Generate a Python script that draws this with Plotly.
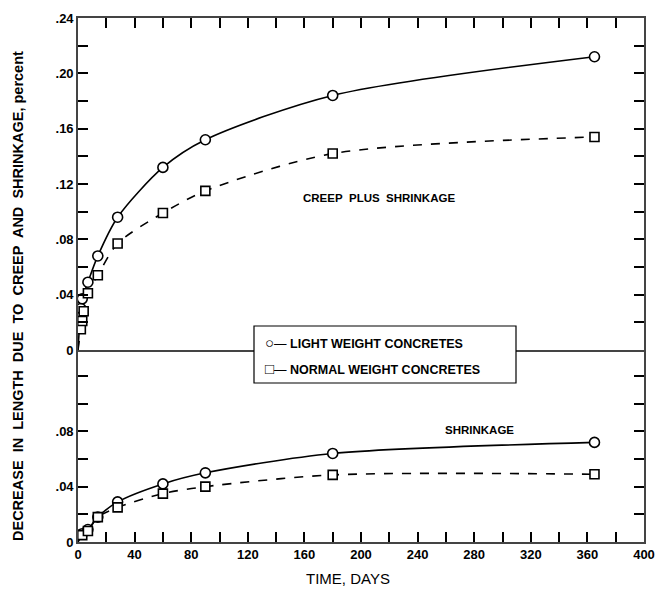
import plotly.graph_objects as go

# Ages at test (days); 0 is the start of loading
days_light_cs = [0, 2, 3, 7, 14, 28, 60, 90, 180, 365]
light_cs = [0.0, 0.030, 0.037, 0.049, 0.068, 0.096, 0.132, 0.152, 0.184, 0.212]

days_normal_cs = [0, 2, 3, 4, 7, 14, 28, 60, 90, 180, 365]
normal_cs = [0.0, 0.015, 0.021, 0.028, 0.041, 0.054, 0.077, 0.099, 0.115, 0.142, 0.154]

days_light_sh = [0, 3, 7, 14, 28, 60, 90, 180, 365]
light_sh = [0.0, 0.006, 0.009, 0.018, 0.029, 0.042, 0.050, 0.064, 0.072]

days_normal_sh = [0, 3, 7, 14, 28, 60, 90, 180, 365]
normal_sh = [0.0, 0.005, 0.008, 0.018, 0.025, 0.035, 0.040, 0.0485, 0.049]

x_tickvals = list(range(0, 401, 20))
x_ticktext = [str(v) if v % 40 == 0 else "" for v in x_tickvals]

upper_tickvals = [i * 0.02 for i in range(13)]
upper_ticktext = ["0", "", ".04", "", ".08", "", ".12", "", ".16", "", ".20", "", ".24"]
lower_tickvals = [i * 0.02 for i in range(7)]
lower_ticktext = ["0", "", ".04", "", ".08", "", ""]

legend_labels = ["LIGHT WEIGHT CONCRETES", "NORMAL WEIGHT CONCRETES"]
legend_glyphs = ["○", "□"]

FONT = "Liberation Sans"
BLACK = "black"

fig = go.Figure()


def add_series(days, vals, symbol, dash, xa, ya):
    fig.add_trace(go.Scatter(
        x=days, y=vals, mode="lines", xaxis=xa, yaxis=ya,
        line=dict(color=BLACK, width=1.6, dash=dash, shape="spline", smoothing=0.8),
        showlegend=False, hoverinfo="skip"))
    fig.add_trace(go.Scatter(
        x=days[1:], y=vals[1:], mode="markers", xaxis=xa, yaxis=ya,
        marker=dict(symbol=symbol, size=10 if symbol == "circle" else 9,
                    color="white", line=dict(color=BLACK, width=1.6)),
        showlegend=False))


add_series(days_light_cs, light_cs, "circle", "solid", "x2", "y2")
add_series(days_normal_cs, normal_cs, "square", "dash", "x2", "y2")
add_series(days_light_sh, light_sh, "circle", "solid", "x", "y")
add_series(days_normal_sh, normal_sh, "square", "dash", "x", "y")

# plot area is 524 px tall: 332 px for the upper panel, 192 px for the lower
lower_frac = 192 / 524
lower_top = 0.24 * 192 / 332
tickfont = dict(size=13, weight="bold")

tick_style = dict(ticks="inside", ticklen=10, tickwidth=2, tickcolor="#000000",
                  showline=True, linewidth=1.6, showgrid=False)

fig.update_layout(
    width=663, height=590,
    margin=dict(l=78, r=19, t=18, b=48),
    template="none",
    font=dict(family=FONT, color=BLACK),
    showlegend=False,
    xaxis=dict(domain=[0, 1], range=[0, 400], anchor="y",
               tickvals=x_tickvals, ticktext=x_ticktext, tickfont=tickfont,
               **tick_style),
    yaxis=dict(domain=[0, lower_frac], range=[0, lower_top], anchor="x",
               tickvals=lower_tickvals, ticktext=lower_ticktext,
               tickfont=tickfont, mirror="ticks", zeroline=False, **tick_style),
    xaxis2=dict(domain=[0, 1], range=[0, 400], anchor="y2", side="top",
                tickvals=x_tickvals, showticklabels=False, mirror=True,
                **tick_style),
    yaxis2=dict(domain=[lower_frac, 1], range=[0, 0.24], anchor="x2",
                tickvals=upper_tickvals, ticktext=upper_ticktext,
                tickfont=tickfont, mirror="ticks", zeroline=False, **tick_style),
)

fig.add_annotation(
    xref="x2", yref="y2", x=213, y=0.110,
    text="CREEP&nbsp; PLUS&nbsp; SHRINKAGE", showarrow=False,
    font=dict(family=FONT, size=11.5, color=BLACK, weight="bold"))
fig.add_annotation(
    xref="x", yref="y", x=284, y=0.081,
    text="SHRINKAGE", showarrow=False,
    font=dict(family=FONT, size=11.5, color=BLACK, weight="bold"))


def px_x(p):
    return (p - 78) / 566


def px_y(p):
    return (542 - p) / 524


# Key box laid over the zero line
fig.add_shape(type="rect", xref="paper", yref="paper",
              x0=px_x(254), x1=px_x(516), y0=px_y(383), y1=px_y(326),
              fillcolor="white", line=dict(color=BLACK, width=1.2), layer="above")
for glyph, label, yp in zip(legend_glyphs, legend_labels, [342, 368]):
    fig.add_annotation(
        xref="paper", yref="paper", x=px_x(263), y=px_y(yp),
        xanchor="left", yanchor="middle", showarrow=False,
        text=f"<span style='font-size:15px;font-weight:normal'>{glyph}</span>"
             f"<span style='font-weight:normal'>—</span>&nbsp;{label}",
        font=dict(family=FONT, size=12.5, color=BLACK, weight="bold"))

fig.add_annotation(
    xref="paper", yref="paper", x=px_x(18), y=px_y(296),
    xanchor="center", yanchor="middle", textangle=-90, showarrow=False,
    text="DECREASE&nbsp; IN&nbsp; LENGTH&nbsp; DUE&nbsp; TO&nbsp; CREEP&nbsp; AND&nbsp; SHRINKAGE, percent",
    font=dict(family=FONT, size=14.5, color=BLACK, weight="bold"))

fig.add_annotation(
    xref="paper", yref="paper", x=px_x(348), y=px_y(578),
    xanchor="center", yanchor="middle", showarrow=False,
    text="TIME, DAYS",
    font=dict(family=FONT, size=15, color=BLACK))

fig.write_html("out.html")
